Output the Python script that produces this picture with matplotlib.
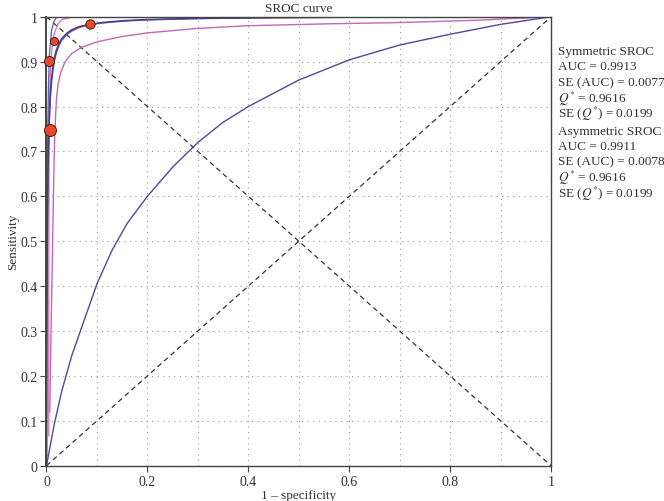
import matplotlib
matplotlib.use('Agg')
import matplotlib.pyplot as plt

plt.rcParams['font.family'] = ['Liberation Serif', 'DejaVu Serif']
plt.rcParams['mathtext.fontset'] = 'stix'

# SROC curves (1 - specificity, sensitivity)
sym_x = [0, 0.0005, 0.001, 0.002, 0.003, 0.004, 0.006, 0.008, 0.01, 0.013, 0.016, 0.02, 0.025,
         0.03, 0.04, 0.05, 0.065, 0.085, 0.11, 0.15, 0.2, 0.3, 0.45, 0.6, 0.8, 1.0]
sym_y = [0, 0.238, 0.385, 0.556, 0.653, 0.715, 0.791, 0.835, 0.863, 0.892, 0.911, 0.927, 0.941,
         0.951, 0.963, 0.971, 0.978, 0.983, 0.987, 0.991, 0.9937, 0.9963, 0.998, 0.9989, 0.9996, 1.0]

asym_x = [0, 0.0005, 0.001, 0.002, 0.003, 0.004, 0.006, 0.008, 0.01, 0.013, 0.016, 0.02, 0.025,
          0.03, 0.04, 0.05, 0.065, 0.085, 0.11, 0.15, 0.2, 0.3, 0.45, 0.6, 0.8, 1.0]
asym_y = [0, 0.25, 0.40, 0.565, 0.655, 0.712, 0.782, 0.824, 0.852, 0.882, 0.903, 0.921, 0.936,
          0.947, 0.960, 0.968, 0.976, 0.982, 0.986, 0.990, 0.993, 0.9958, 0.9978, 0.9988, 0.9995, 1.0]

upper_x = [0.0045, 0.0045, 0.005, 0.006, 0.0075, 0.01, 0.013, 0.017, 0.023, 0.031, 0.05, 0.1, 0.3, 1.0]
upper_y = [0.067, 0.4, 0.65, 0.78, 0.872, 0.92, 0.95, 0.968, 0.984, 0.994, 0.999, 0.9995, 0.9998, 1.0]

lower_x = [0.0065, 0.009, 0.011, 0.013, 0.014, 0.016, 0.018, 0.02, 0.023, 0.028, 0.037, 0.05, 0.07,
           0.1, 0.15, 0.2, 0.3, 0.4, 0.55, 0.7, 0.85, 1.0]
lower_y = [0.12, 0.3, 0.42, 0.55, 0.62, 0.72, 0.78, 0.82, 0.85, 0.875, 0.90, 0.918, 0.932,
           0.944, 0.956, 0.964, 0.974, 0.980, 0.984, 0.987, 0.992, 1.0]

flat_x = [0, 0.0005, 0.001, 0.002, 0.004, 0.006, 0.01, 0.015, 0.02]
flat_y = [0, 0.3, 0.5, 0.7, 0.85, 0.92, 0.97, 0.99, 0.999]

low_x = [0, 0.005, 0.015, 0.03, 0.05, 0.075, 0.1, 0.13, 0.16, 0.2, 0.25, 0.3, 0.35, 0.4,
         0.5, 0.6, 0.7, 0.8, 0.9, 1.0]
low_y = [0, 0.03, 0.09, 0.165, 0.245, 0.325, 0.405, 0.48, 0.54, 0.60, 0.665, 0.72, 0.765, 0.80,
         0.859, 0.904, 0.937, 0.961, 0.983, 1.0]

# studies
study_fpr = [0.087, 0.0143, 0.0056, 0.0075]
study_sens = [0.983, 0.946, 0.901, 0.748]
study_size = [6.7, 5.8, 7.2, 8.6]

stats_lines = ['Symmetric SROC', 'AUC = 0.9913', 'SE (AUC) = 0.0077',
               r'$Q^{*}$ = 0.9616', r'SE ($Q^{*}$) = 0.0199',
               'Asymmetric SROC', 'AUC = 0.9911', 'SE (AUC) = 0.0078',
               r'$Q^{*}$ = 0.9616', r'SE ($Q^{*}$) = 0.0199']

fig = plt.figure(figsize=(6.64, 5.02), dpi=100)
ax = fig.add_axes([0.070, 0.0703, 0.760, 0.8944])

ax.plot([0, 1], [0, 1], color='#333333', lw=0.9, ls=(0, (4, 3)))
ax.plot([0, 1], [1, 0], color='#333333', lw=0.9, ls=(0, (4, 3)))

ax.plot(low_x, low_y, color='#5048a0', lw=1.0)
ax.plot(upper_x, upper_y, color='#d27ac8', lw=1.0)
ax.plot(lower_x, lower_y, color='#c865b8', lw=1.0)
ax.plot(flat_x, flat_y, color='#5a5ab0', lw=0.9)
ax.plot(asym_x, asym_y, color='#6a52b0', lw=1.0)
ax.plot(sym_x, sym_y, color='#4a3c8c', lw=1.1)

for fx, sy, ms in zip(study_fpr, study_sens, study_size):
    ax.plot(fx, sy, 'o', ms=ms, mfc='#ea4a2c', mec='#4a1a10', mew=0.7, clip_on=False, zorder=5)

ax.set_xlim(0, 1)
ax.set_ylim(0, 1)
ax.set_xticks([0, 0.2, 0.4, 0.6, 0.8, 1.0])
ax.set_xticklabels(['0', '0.2', '0.4', '0.6', '0.8', '1'])
ax.set_xticks([0.1, 0.3, 0.5, 0.7, 0.9], minor=True)
ax.set_yticks([i / 10 for i in range(11)])
ax.set_yticklabels(['0', '0.1', '0.2', '0.3', '0.4', '0.5', '0.6', '0.7', '0.8', '0.9', '1'])
ax.tick_params(which='both', direction='out', length=4, width=0.8, colors='#444444',
               labelsize=10, labelcolor='#333333', pad=2.5)
ax.tick_params(which='minor', length=0)
ax.grid(True, which='both', color='#999999', ls=(0, (1, 4)), lw=0.8)
for s in ax.spines.values():
    s.set_color('#444444')
    s.set_linewidth(1.0)
ax.spines['left'].set_linewidth(1.4)

ax.set_title('SROC curve', fontsize=9.5, color='#333333', pad=4)
ax.set_xlabel('1 – specificity', fontsize=9.5, color='#333333', labelpad=1)
ax.set_ylabel('Sensitivity', fontsize=9.5, color='#333333', labelpad=1)

y = 52
for i, line in enumerate(stats_lines):
    if i == 5:
        y += 2
    fig.text(558 / 664, 1 - y / 502, line, fontsize=9.5, color='#333333', va='center', ha='left')
    y += 15.5

fig.savefig('out.png', dpi=100)
